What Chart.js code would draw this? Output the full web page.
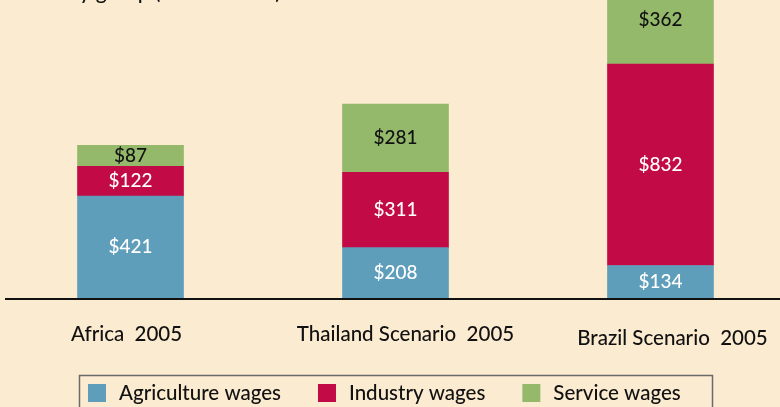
<!DOCTYPE html>
<html><head><meta charset="utf-8">
<style>html,body{margin:0;padding:0;background:#FBEBD0;}#wrap{width:780px;height:407px;position:relative;overflow:hidden}</style>
<script src="https://cdn.jsdelivr.net/npm/chart.js@4/dist/chart.umd.min.js"></script>
</head><body><div id="wrap"><canvas id="c" width="780" height="407"></canvas></div>
<script>
const categories = ['Africa  2005', 'Thailand Scenario  2005', 'Brazil Scenario  2005'];
const seriesNames = ['Agriculture wages', 'Industry wages', 'Service wages'];
const agriculture = [421, 208, 134];
const industry = [122, 311, 832];
const service = [87, 281, 362];
const titleText = 'by group (in US dollars)';

const FONT = 'Lato, "Open Sans", sans-serif';
const COLORS = ['#5F9EBB', '#C20A46', '#94B96A'];
const LABEL_COLORS = ['#ffffff', '#ffffff', '#111111'];
const BG = '#FBEBD0';

const toPoints = arr => arr.map((v, i) => ({ x: i, y: v }));

const decor = {
  id: 'decor',
  beforeDraw(chart) {
    const ctx = chart.ctx;
    ctx.save();
    ctx.fillStyle = BG;
    ctx.fillRect(0, 0, chart.width, chart.height);
    ctx.restore();
  },
  afterDatasetsDraw(chart) {
    const ctx = chart.ctx;
    ctx.save();
    ctx.font = '500 19px ' + FONT;
    ctx.textAlign = 'center';
    ctx.textBaseline = 'middle';
    chart.data.datasets.forEach((ds, di) => {
      const meta = chart.getDatasetMeta(di);
      meta.data.forEach((el, i) => {
        const yc = (el.y + el.base) / 2;
        ctx.fillStyle = LABEL_COLORS[di];
        ctx.fillText('$' + ds.data[i].y, el.x, yc);
      });
    });
    ctx.restore();
  },
  afterDraw(chart) {
    const ctx = chart.ctx;
    const area = chart.chartArea;
    const xs = chart.scales.x;
    ctx.save();
    // axis line
    ctx.strokeStyle = '#111';
    ctx.lineWidth = 2;
    ctx.beginPath();
    ctx.moveTo(5, area.bottom + 1);
    ctx.lineTo(780, area.bottom + 1);
    ctx.stroke();
    // category labels
    ctx.fillStyle = '#111';
    ctx.font = '500 20.5px ' + FONT;
    ctx.textAlign = 'center';
    ctx.textBaseline = 'middle';
    const dy = [36, 36, 40];
    const dx = [-4, 10, 12];
    categories.forEach((c, i) => {
      ctx.fillText(c, xs.getPixelForValue(i) + dx[i], area.bottom + dy[i]);
    });
    // title (cut off at top)
    ctx.textAlign = 'left';
    ctx.textBaseline = 'alphabetic';
    ctx.font = '500 21px ' + FONT;
    ctx.fillText(titleText, 68, -1);
    // legend
    ctx.strokeStyle = '#6b6b6b';
    ctx.lineWidth = 1.5;
    ctx.strokeRect(79.5, 375.5, 633, 40);
    ctx.font = '500 20.5px ' + FONT;
    ctx.textBaseline = 'middle';
    let x = 88;
    chart.data.datasets.forEach((ds, di) => {
      ctx.fillStyle = ds.backgroundColor;
      ctx.fillRect(x, 384, 18, 18);
      x += 18 + 13;
      ctx.fillStyle = '#111';
      ctx.fillText(ds.label, x, 393);
      x += ctx.measureText(ds.label).width + 37;
    });
    ctx.restore();
  }
};

new Chart(document.getElementById('c'), {
  type: 'bar',
  data: {
    labels: categories,
    datasets: [
      { label: seriesNames[0], data: toPoints(agriculture), backgroundColor: COLORS[0] },
      { label: seriesNames[1], data: toPoints(industry), backgroundColor: COLORS[1] },
      { label: seriesNames[2], data: toPoints(service), backgroundColor: COLORS[2] }
    ]
  },
  options: {
    responsive: false,
    animation: false,
    devicePixelRatio: 1,
    layout: { padding: { left: 0, right: 0, top: 0, bottom: 109 } },
    plugins: { legend: { display: false }, tooltip: { enabled: false } },
    datasets: { bar: { barThickness: 106, borderWidth: 0 } },
    scales: {
      x: { type: 'linear', offset: false, grid: { offset: false }, stacked: true, display: false, min: -0.4925, max: 2.451 },
      y: { stacked: true, display: false, min: 0, max: 1230 }
    }
  },
  plugins: [decor]
});
</script>
</body></html>
